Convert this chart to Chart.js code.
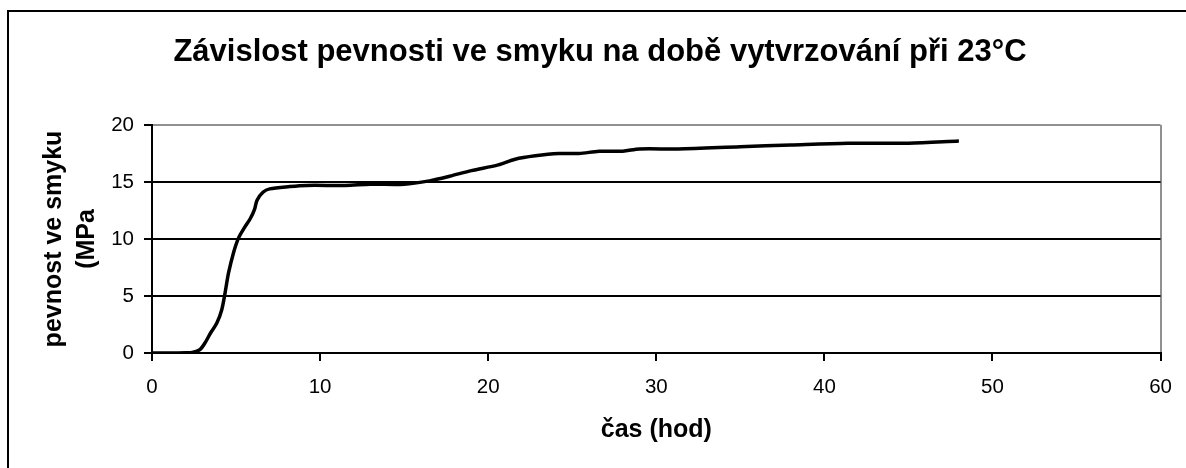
<!DOCTYPE html>
<html>
<head>
<meta charset="utf-8">
<script src="https://cdn.jsdelivr.net/npm/chart.js@4.4.1/dist/chart.umd.min.js"></script>
<style>
html,body{margin:0;padding:0;background:#fff;}
#wrap{width:1186px;height:468px;}
</style>
</head>
<body>
<div id="wrap"><canvas id="c" width="1186" height="468"></canvas></div>
<script>
const titleText = "Závislost pevnosti ve smyku na době vytvrzování při 23°C";
const xTitle = "čas (hod)";
const yTitle = ["pevnost ve smyku", "(MPa"];
const timeHours = [0, 1, 2, 2.4, 2.85, 3.2, 3.5, 3.85, 4.15, 4.35, 4.55, 4.85, 5.15, 5.5, 5.85, 6.1, 6.25, 6.6, 7.0, 8.2, 9.2, 11.5, 13, 15, 16.5, 17.7, 19, 20.6, 21.6, 22.8, 24.2, 25.4, 26.6, 28, 29, 31.3, 35, 38, 41.4, 45, 48];
const strengthMPa = [0, 0, 0.02, 0.05, 0.3, 1.0, 1.8, 2.6, 3.8, 5.3, 7.0, 8.8, 10.1, 11.0, 11.8, 12.6, 13.4, 14.1, 14.4, 14.6, 14.7, 14.7, 14.8, 14.8, 15.1, 15.5, 16.0, 16.5, 17.0, 17.3, 17.5, 17.5, 17.7, 17.7, 17.9, 17.9, 18.1, 18.25, 18.4, 18.4, 18.6];
const xTicks = [0, 10, 20, 30, 40, 50, 60];
const yTicks = [0, 5, 10, 15, 20];

const points = timeHours.map((t, i) => ({x: t, y: strengthMPa[i]}));
const FONT = "'Liberation Sans', Arial, sans-serif";

const frame = {
  id: 'frame',
  beforeDraw(chart) {
    const ctx = chart.ctx;
    ctx.save();
    ctx.fillStyle = '#fff';
    ctx.fillRect(0, 0, chart.width, chart.height);
    ctx.strokeStyle = '#000';
    ctx.lineWidth = 2;
    ctx.strokeRect(8, 11, 1200, 500);
    ctx.restore();
  }
};

new Chart(document.getElementById('c'), {
  type: 'scatter',
  data: {
    datasets: [{
      data: points,
      showLine: true,
      borderColor: '#000',
      borderWidth: 3.5,
      pointRadius: 0,
      tension: 0.3,
      fill: false
    }]
  },
  options: {
    responsive: false,
    animation: false,
    layout: {padding: {left: 37, right: 23, top: 0, bottom: 0}},
    plugins: {
      legend: {display: false},
      tooltip: {enabled: false},
      title: {
        display: true,
        text: titleText,
        color: '#000',
        font: {family: FONT, size: 31, weight: 'bold'},
        padding: {top: 34, bottom: 53.8}
      }
    },
    scales: {
      x: {
        type: 'linear',
        min: 0, max: 60,
        afterBuildTicks(s) { s.ticks = xTicks.map(v => ({value: v})); },
        afterFit(s) { s.height = 115; },
        border: {display: true, color: '#000', width: 2},
        grid: {
          drawOnChartArea: true,
          color: c => (c.tick && c.tick.value === 60) ? '#909090' : 'rgba(0,0,0,0)',
          tickColor: '#000',
          tickLength: 8,
          lineWidth: 2
        },
        ticks: {color: '#000', font: {family: FONT, size: 20.5}, padding: 14, maxRotation: 0},
        title: {
          display: true, text: xTitle, color: '#000',
          font: {family: FONT, size: 25, weight: 'bold'},
          padding: {top: 0, bottom: 23}
        }
      },
      y: {
        type: 'linear',
        min: 0, max: 20,
        afterBuildTicks(s) { s.ticks = yTicks.map(v => ({value: v})); },
        afterFit(s) { s.width = 115; },
        border: {display: true, color: '#000', width: 2},
        grid: {
          color: c => (c.tick && c.tick.value === 20) ? '#909090' : '#000',
          tickColor: '#000',
          tickLength: 8,
          lineWidth: 2
        },
        ticks: {color: '#000', font: {family: FONT, size: 20.5}, padding: 10},
        title: {
          display: true, text: yTitle, color: '#000',
          font: {family: FONT, size: 25, weight: 'bold', lineHeight: 1.32},
          padding: {top: 0.5, bottom: 0}
        }
      }
    }
  },
  plugins: [frame]
});
</script>
</body>
</html>
